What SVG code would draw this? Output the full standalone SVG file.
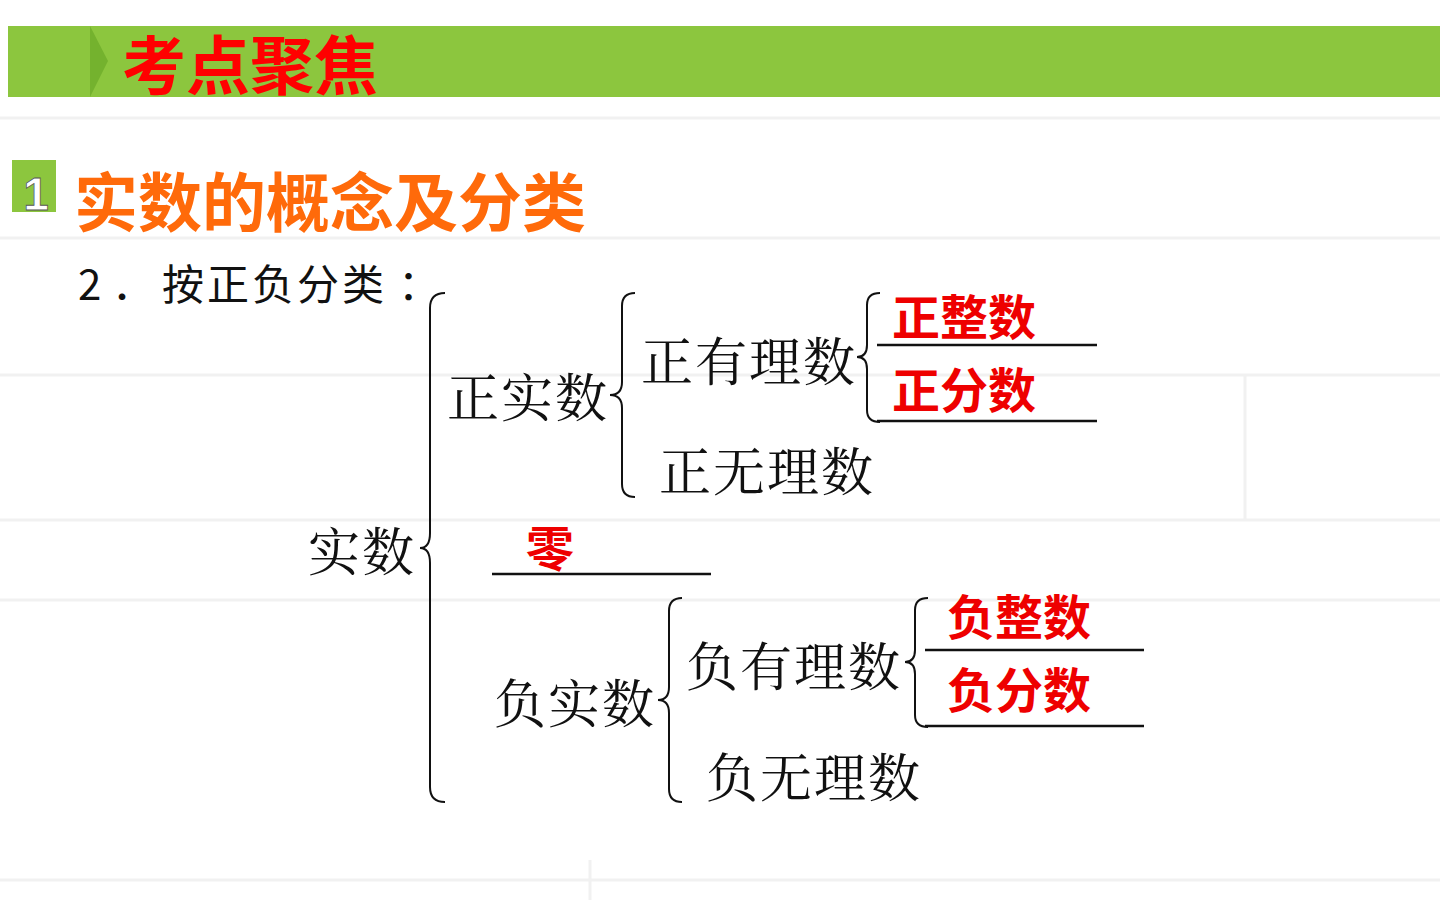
<svg xmlns="http://www.w3.org/2000/svg" width="1440" height="900" viewBox="0 0 1440 900">
<defs>
<style>
.bg{stroke:#f1f1f1;stroke-width:3;fill:none}
.serif{font-family:"Noto Serif CJK SC","Liberation Serif","Noto Sans CJK SC",serif;font-size:52px;letter-spacing:2px;fill:#111}
.red{font-family:"Liberation Sans","Noto Sans CJK SC",sans-serif;font-weight:bold;font-size:48px;fill:#ee0000}
.ul{stroke:#111;stroke-width:2.5}
.brace{stroke:#111;stroke-width:2;fill:none}
</style>
</defs>
<rect x="0" y="0" width="1440" height="900" fill="#ffffff"/>
<g id="background">
<path class="bg" d="M0 118H1440M0 238H1440M0 375H1440M0 520H1440M0 600H1440M0 880H1440M1245 375V520M590 860V900"/>
</g>
<g id="header">
<rect x="8" y="26" width="1432" height="71" fill="#8cc63e"/>
<path d="M90 26 L108 61 L90 97 Z" fill="#74b22e"/>
<text x="122" y="89" font-family="Liberation Sans,'Noto Sans CJK SC',sans-serif" font-weight="bold" font-size="64" fill="#ff0000">考点聚焦</text>
</g>
<g id="section-title">
<rect x="12" y="160" width="44" height="52" fill="#8cc63e"/>
<text x="36" y="210" text-anchor="middle" font-family="Liberation Sans,sans-serif" font-weight="bold" font-size="46" fill="#ffffff" stroke="#555555" stroke-width="0.8">1</text>
<text x="74" y="226" font-family="Liberation Sans,'Noto Sans CJK SC',sans-serif" font-weight="bold" font-size="64" fill="#ff6a0a">实数的概念及分类</text>
</g>
<g id="subtitle" font-family="'Noto Sans CJK SC',sans-serif" font-size="42" fill="#111">
<text x="78" y="300">2</text>
<text x="112" y="300">．</text>
<text x="162" y="300" letter-spacing="3">按正负分类</text>
<text x="398" y="300">：</text>
</g>
<g id="connectors">
<path class="brace" d="M445 293 Q430 293 430 308 L430 533 Q430 548 420 548 Q430 548 430 563 L430 787 Q430 802 445 802"/>
<path class="brace" d="M635 293 Q622 293 622 306 L622 382 Q622 395 610 395 Q622 395 622 408 L622 484 Q622 497 635 497"/>
<path class="brace" d="M880 293 Q867 293 867 305 L867 345 Q867 357 857 357 Q867 357 867 369 L867 410 Q867 422 880 422"/>
<path class="brace" d="M682 598 Q669 598 669 611 L669 687 Q669 700 658 700 Q669 700 669 713 L669 789 Q669 802 682 802"/>
<path class="brace" d="M928 598 Q915 598 915 610 L915 650 Q915 662 905 662 Q915 662 915 674 L915 715 Q915 727 928 727"/>
<line class="ul" x1="877" y1="345" x2="1097" y2="345"/>
<line class="ul" x1="877" y1="421" x2="1097" y2="421"/>
<line class="ul" x1="492" y1="574" x2="711" y2="574"/>
<line class="ul" x1="925" y1="650" x2="1144" y2="650"/>
<line class="ul" x1="925" y1="726" x2="1144" y2="726"/>
</g>
<g id="n-real"><text class="serif" x="308" y="571">实数</text></g>
<g id="n-posreal"><text class="serif" x="447" y="417">正实数</text></g>
<g id="n-posrat"><text class="serif" x="641" y="381">正有理数</text></g>
<g id="n-posirr"><text class="serif" x="659" y="491">正无理数</text></g>
<g id="n-negreal"><text class="serif" x="494" y="723">负实数</text></g>
<g id="n-negrat"><text class="serif" x="686" y="686">负有理数</text></g>
<g id="n-negirr"><text class="serif" x="706" y="797">负无理数</text></g>
<g id="a-posint"><text class="red" x="892" y="335">正整数</text></g>
<g id="a-posfrac"><text class="red" x="892" y="408">正分数</text></g>
<g id="a-zero"><text class="red" x="526" y="566">零</text></g>
<g id="a-negint"><text class="red" x="947" y="635">负整数</text></g>
<g id="a-negfrac"><text class="red" x="947" y="708">负分数</text></g>
</svg>
